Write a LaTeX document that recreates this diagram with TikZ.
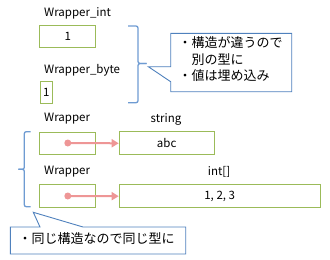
\documentclass[tikz,border=0pt]{standalone}
\usepackage{fontspec}
\setmainfont{Noto Sans CJK JP}
\usepackage{tikz}
\usetikzlibrary{arrows.meta,positioning,calc}
\definecolor{boxgreen}{RGB}{155,187,89}
\definecolor{calloutblue}{RGB}{79,129,189}
\definecolor{braceblue}{RGB}{110,155,210}
\definecolor{refred}{RGB}{238,150,150}
\tikzset{
  valbox/.style={draw=boxgreen, line width=1pt, minimum height=22pt, inner sep=0pt, font=\fontsize{11.5}{13}\selectfont},
  lbl/.style={inner sep=0pt, font=\fontsize{11.5}{13}\selectfont},
  refdot/.style={circle, fill=refred, inner sep=0pt, minimum size=7pt},
  refarrow/.style={draw=refred, line width=2pt, -{Triangle[length=7pt,width=8pt]}},
  bracket/.style={draw=braceblue, line width=1.3pt, rounded corners=2pt},
  callout/.style={draw=calloutblue, line width=0.9pt, fill=white}
}

\begin{document}
\begin{tikzpicture}[x=1pt, y=-1pt]
\useasboundingbox (0,0) rectangle (330,260);
% boxes
\node[valbox, minimum width=55.7pt] (WI) at (67.8,36.3) {1};
\node[valbox, minimum width=12.3pt] (WB) at (46.2,92) {1};
\node[valbox, minimum width=55.7pt] (W1) at (67.8,143) {};
\node[valbox, minimum width=95pt, minimum height=23pt] (S) at (166.7,143.3) {abc};
\node[valbox, minimum width=55.7pt, minimum height=23pt] (W2) at (67.8,196) {};
\node[valbox, minimum width=201pt, minimum height=23.5pt] (A) at (219.7,196.2) {1, 2, 3};
% labels
\node[lbl, anchor=west] at (44,13) {Wrapper\_int};
\node[lbl, anchor=west] at (44,70) {Wrapper\_byte};
\node[lbl, anchor=west] at (44,119) {Wrapper};
\node[lbl] at (166,119) {string};
\node[lbl, anchor=west] at (44,172) {Wrapper};
\node[lbl] at (219,172) {int[]};
% references
\node[refdot] (D1) at (W1.center) {};
\node[refdot] (D2) at (W2.center) {};
\draw[refarrow] (D1.center) -- (S.west);
\draw[refarrow] (D2.center) -- (A.west);
% braces
\draw[bracket] (128,26) -- (138,26) -- (138,63.5) -- (146.5,63.5);
\draw[bracket] (146.5,63.5) -- (138,63.5) -- (138,102.7) -- (128,102.7);
\draw[bracket] (30.7,131.7) -- (24.3,131.7) -- (24.3,169.3) -- (18.3,169.3);
\draw[bracket] (18.3,169.3) -- (24.3,169.3) -- (24.3,206.7) -- (30.7,206.7);
% callouts
\coordinate (T1) at (148.3,66.7);
\coordinate (C1nw) at (170.7,33.3);
\coordinate (C1se) at (291.7,91.7);
\draw[callout] (C1nw) -- (C1se|-C1nw) -- (C1se) -- (C1nw|-C1se) -- (170.7,81.7) -- (T1) -- (170.7,66.7) -- cycle;
\node[inner sep=0pt, anchor=north west, align=left, font=\fontsize{13}{16.5}\selectfont] (C1) at (178.5,36.5)
  {・構造が違うので\\\hspace{1em}別の型に\\・値は埋め込み};
\coordinate (T2) at (33.3,212.3);
\coordinate (C2nw) at (10.3,227);
\coordinate (C2se) at (185.7,254);
\draw[callout] (C2nw) -- (40,227) -- (T2) -- (83,227) -- (C2se|-C2nw) -- (C2se) -- (C2nw|-C2se) -- cycle;
\node[inner sep=0pt, anchor=west, font=\fontsize{13}{15}\selectfont] (C2) at (18.5,239)
  {・同じ構造なので同じ型に};
\end{tikzpicture}
\end{document}
